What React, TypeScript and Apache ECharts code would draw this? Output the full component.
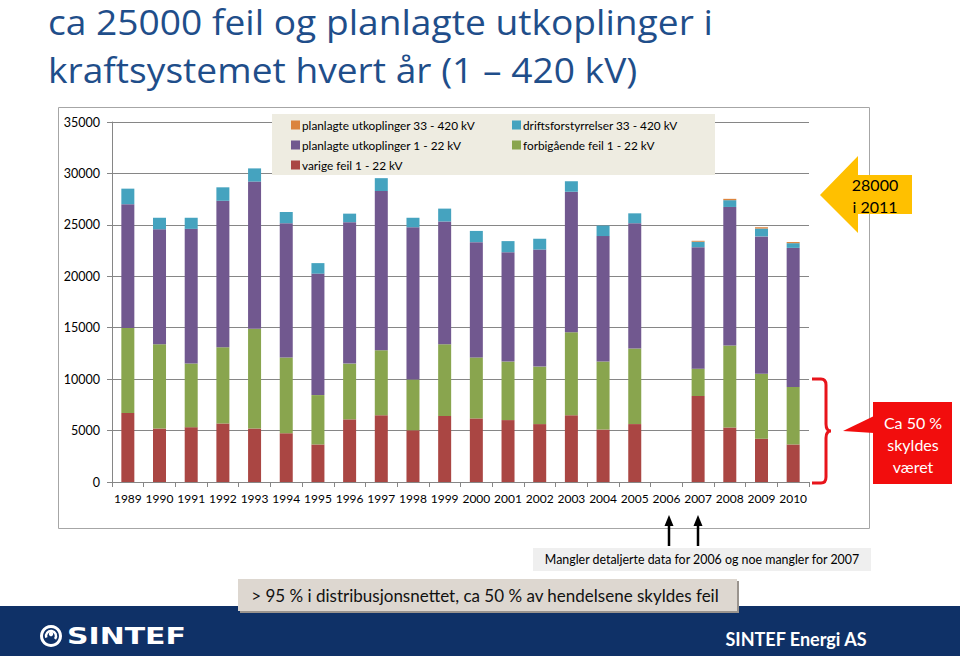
import React, { useEffect, useRef } from "react";
import * as echarts from "echarts";

const years = ["1989","1990","1991","1992","1993","1994","1995","1996","1997","1998","1999","2000","2001","2002","2003","2004","2005","2006","2007","2008","2009","2010"];
const varigeFeil = [6700,5200,5330,5690,5200,4740,3650,6090,6480,5030,6410,6180,6020,5630,6480,5100,5630,null,8360,5300,4210,3650];
const forbigaendeFeil = [8270,8190,6180,7400,9700,7370,4800,5420,6320,4940,6980,5930,5690,5590,8090,6610,7360,null,2660,7960,6320,5590];
const planlagte1_22 = [12040,11180,13100,14250,14310,13050,11810,13750,15490,14800,11940,11210,10630,11380,13650,12200,12170,null,11810,13480,13350,13520];
const drift33_420 = [1510,1120,1080,1310,1280,1090,1020,830,1250,920,1250,1090,1080,1050,1020,1020,960,null,530,660,760,460];
const planlagte33_420 = [0,0,0,0,0,0,0,0,0,0,0,0,0,0,0,0,0,null,90,130,130,110];

const yTicks = { min: 0, max: 35000, interval: 5000 };

const names = {
  p33: "planlagte utkoplinger 33 - 420 kV",
  d33: "driftsforstyrrelser 33 - 420 kV",
  p1: "planlagte utkoplinger 1 - 22 kV",
  f1: "forbigående feil 1 - 22 kV",
  v1: "varige feil 1 - 22 kV",
};

const colors = { v1: "#AA4643", f1: "#89A54E", p1: "#71588F", d33: "#45A3BF", p33: "#DB843D" };

const bracketD = "M0 0 L9 0 Q14 0 14 6 L14 45 Q14 52 19 52 Q14 52 14 59 L14 98 Q14 104 9 104 L0 104";
echarts.graphic.registerShape("bracket", echarts.graphic.extendPath(bracketD, {}));

const FONT = "Lato, 'Noto Sans', sans-serif";
const TITLE_FONT = "'Open Sans', Lato, sans-serif";

export default function App() {
  const ref = useRef<HTMLDivElement>(null);
  useEffect(() => {
    document.body.style.margin = "0";
    const chart = echarts.init(ref.current!, null, { renderer: "svg" });
    const mk = (key: keyof typeof names, data: (number | null)[]) => ({
      name: names[key],
      type: "bar",
      stack: "total",
      data,
      barWidth: 13,
      itemStyle: { color: colors[key] },
    });
    const txt = (text: string, x: number, y: number, size: number, fill: string, extra: any = {}) => ({
      type: "text",
      x,
      y,
      z: 20,
      style: { text, fill, fontSize: size, fontFamily: FONT, align: "center", verticalAlign: "middle", ...extra },
    });
    const legendCommon = {
      orient: "vertical",
      top: 113,
      itemWidth: 9,
      itemHeight: 9,
      itemGap: 6,
      icon: "rect",
      selectedMode: false,
      z: 10,
      textStyle: { fontSize: 11.8, fontFamily: FONT, color: "#000", lineHeight: 14, padding: [0, 0, 0, -3] },
    };
    chart.setOption({
      animation: false,
      backgroundColor: "#ffffff",
      grid: { left: 112, right: 151, top: 122, bottom: 174, containLabel: false },
      xAxis: {
        type: "category",
        data: years,
        axisLine: { lineStyle: { color: "#868686" } },
        axisTick: { show: true, length: 5, lineStyle: { color: "#868686" } },
        axisLabel: { interval: 0, margin: 10, color: "#000", fontSize: 12, fontFamily: FONT },
      },
      yAxis: {
        type: "value",
        ...yTicks,
        axisLine: { show: true, lineStyle: { color: "#868686" } },
        axisTick: { show: true, length: 5, lineStyle: { color: "#868686" } },
        splitLine: { lineStyle: { color: "#868686", width: 1 } },
        axisLabel: { margin: 12, color: "#000", fontSize: 12.5, fontFamily: FONT, formatter: (v: number) => String(v) },
      },
      legend: [
        { ...legendCommon, data: [names.p33, names.p1, names.v1], left: 286 },
        { ...legendCommon, data: [names.d33, names.f1], left: 507 },
      ],
      series: [
        mk("v1", varigeFeil),
        mk("f1", forbigaendeFeil),
        mk("p1", planlagte1_22),
        mk("d33", drift33_420),
        mk("p33", planlagte33_420),
      ],
      graphic: [
        // chart frame
        { type: "rect", z: 1, shape: { x: 58.5, y: 107.5, width: 811, height: 421 }, style: { fill: "none", stroke: "#A6A6A6", lineWidth: 1 } },
        // legend box
        { type: "rect", z: 5, shape: { x: 272, y: 114, width: 443, height: 61 }, style: { fill: "#EEECE1" } },
        // title
        { type: "text", x: 48, y: 22, z: 20, scaleX: 1.093, style: { text: "ca 25000 feil og planlagte utkoplinger i", fill: "#1F4E8A", fontSize: 34, fontFamily: TITLE_FONT, align: "left", verticalAlign: "middle" } },
        { type: "text", x: 48, y: 70, z: 20, scaleX: 1.093, style: { text: "kraftsystemet hvert år (1 – 420 kV)", fill: "#1F4E8A", fontSize: 34, fontFamily: TITLE_FONT, align: "left", verticalAlign: "middle" } },
        // yellow arrow
        { type: "polygon", z: 15, shape: { points: [[820, 195], [858, 156], [858, 175], [912, 175], [912, 214], [858, 214], [858, 233]] }, style: { fill: "#FFC000" } },
        txt("28000", 875, 184, 16, "#000"),
        txt("i 2011", 875, 206, 16, "#000"),
        // red bracket
        { type: "bracket", x: 812, y: 379, z: 15, style: { fill: "none", stroke: "#E8141B", lineWidth: 3 } },
        // red callout
        { type: "polygon", z: 15, shape: { points: [[874, 416], [843, 431], [874, 433]] }, style: { fill: "#F20D0D" } },
        { type: "rect", z: 15, shape: { x: 873, y: 402, width: 79, height: 82 }, style: { fill: "#F20D0D" } },
        txt("Ca 50 %", 913, 422, 16, "#fff"),
        txt("skyldes", 913, 444, 16, "#fff"),
        txt("været", 913, 466, 16, "#fff"),
        // missing data note
        { type: "rect", z: 5, shape: { x: 533, y: 548, width: 338, height: 23 }, style: { fill: "#EFEFEF" } },
        txt("Mangler detaljerte data for 2006 og noe mangler for 2007", 702, 559, 12.4, "#000"),
        // arrows
        { type: "line", z: 15, shape: { x1: 669, y1: 546, x2: 669, y2: 524 }, style: { stroke: "#000", lineWidth: 2.5 } },
        { type: "polygon", z: 15, shape: { points: [[669, 515], [664.5, 526], [673.5, 526]] }, style: { fill: "#000" } },
        { type: "line", z: 15, shape: { x1: 698, y1: 546, x2: 698, y2: 524 }, style: { stroke: "#000", lineWidth: 2.5 } },
        { type: "polygon", z: 15, shape: { points: [[698, 515], [693.5, 526], [702.5, 526]] }, style: { fill: "#000" } },
        // footer band
        { type: "rect", z: 4, shape: { x: 0, y: 606, width: 960, height: 50 }, style: { fill: "#0F3167" } },
        // bottom note box
        { type: "rect", z: 6, shape: { x: 240, y: 581, width: 499, height: 32 }, style: { fill: "#9A948E" } },
        { type: "rect", z: 7, shape: { x: 238, y: 579, width: 499, height: 32 }, style: { fill: "#DDD7D0" } },
        txt("> 95 % i distribusjonsnettet, ca 50 % av hendelsene skyldes feil", 485, 595, 17, "#111"),
        // SINTEF logo
        { type: "ring", z: 20, shape: { cx: 51, cy: 636, r: 11, r0: 8 }, style: { fill: "#fff" } },
        { type: "arc", z: 20, shape: { cx: 51, cy: 636, r: 5, startAngle: Math.PI * 0.9, endAngle: Math.PI * 2.2 }, style: { stroke: "#fff", lineWidth: 2.5, fill: "none" } },
        { type: "circle", z: 20, shape: { cx: 51, cy: 634, r: 2.2 }, style: { fill: "#fff" } },
        { type: "text", x: 67, y: 636, z: 20, scaleX: 1.3, style: { text: "SINTEF", fill: "#fff", fontSize: 23, fontWeight: "bold", fontFamily: "'DejaVu Sans', sans-serif", align: "left", verticalAlign: "middle" } },
        txt("SINTEF Energi AS", 796, 639, 18, "#fff", { fontWeight: "bold" }),
      ],
    });
    return () => chart.dispose();
  }, []);
  return <div ref={ref} style={{ width: 960, height: 656 }} />;
}
